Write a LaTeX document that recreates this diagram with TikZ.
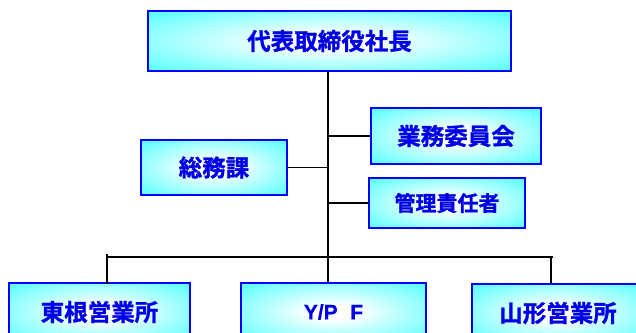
\documentclass[tikz,border=0pt]{standalone}
\usepackage{fontspec}
\newfontfamily\jp{Noto Sans CJK JP}[BoldFont={* Bold}, BoldFeatures={FakeBold=1.2}]
\newfontfamily\lat{Liberation Sans}[BoldFeatures={FakeBold=0.6}]
\definecolor{boxblue}{RGB}{0,0,255}
\definecolor{txtblue}{RGB}{0,0,230}
\definecolor{boxcyan}{RGB}{0,255,255}
\pgfdeclareradialshading{boxshade}{\pgfpoint{0bp}{0bp}}{color(0bp)=(white); color(6bp)=(white); color(50bp)=(boxcyan); color(100bp)=(boxcyan)}
\tikzset{
  orgbox/.style={draw=boxblue, line width=2pt, shading=boxshade, rectangle,
    inner sep=0pt, text=txtblue, font=\jp\bfseries\fontsize{23.5}{23.5}\selectfont},
  conn/.style={draw=black, line width=1.5pt}
}
\begin{document}
\begin{tikzpicture}[x=1pt,y=-1pt]
\useasboundingbox (0,0) rectangle (636,332);
\node[orgbox, minimum width=363pt, minimum height=60pt] (ceo) at (329.5,41) {代表取締役社長};
\node[orgbox, minimum width=170pt, minimum height=56pt] (gyomu) at (456,136) {業務委員会};
\node[orgbox, minimum width=146pt, minimum height=55pt] (somu) at (214,167.5) {総務課};
\node[orgbox, minimum width=156pt, minimum height=50pt, font=\jp\bfseries\fontsize{21}{21}\selectfont] (kanri) at (447,203) {管理責任者};
\node[orgbox, minimum width=181pt, minimum height=58pt] (higashine) at (99.5,312) {東根営業所};
\node[orgbox, minimum width=185pt, minimum height=58pt, font=\lat\bfseries\fontsize{21}{21}\selectfont] (ypf) at (333.5,312) {Y/P\hspace{0.6em}F};
\node[orgbox, minimum width=172pt, minimum height=58pt] (yamagata) at (558,313) {山形営業所};
\coordinate (trunk) at (328,0);
\coordinate (bl) at (107,257);
\coordinate (br) at (553,257);
\coordinate (bls) at (107,254);
\coordinate (brs) at (551,257);
\draw[conn] (ceo.south -| trunk) -- (ypf.north -| trunk);
\draw[conn] (gyomu.west) -- (gyomu.west -| trunk);
\draw[conn] (somu.east) -- (somu.east -| trunk);
\draw[conn] (kanri.west) -- (kanri.west -| trunk);
\draw[conn] (bl) -- (br);
\draw[conn] (bls) -- ([yshift=-2pt]bls |- higashine.north);
\draw[conn] (brs) -- (brs |- yamagata.north);
\end{tikzpicture}
\end{document}
